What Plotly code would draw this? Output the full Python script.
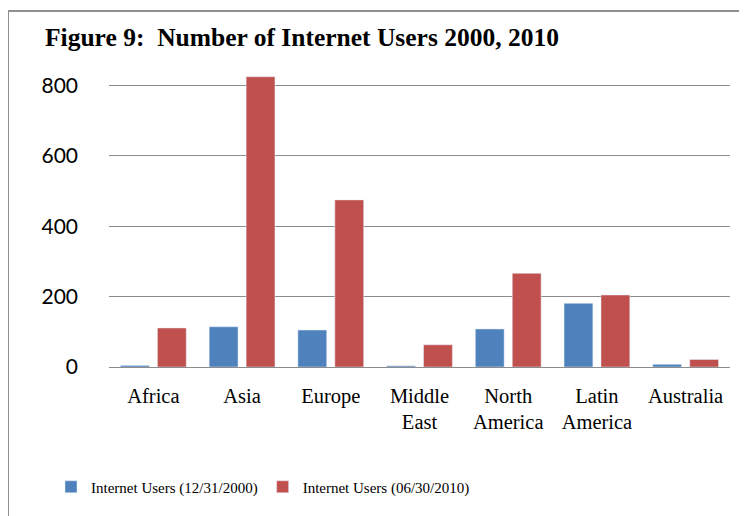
import plotly.graph_objects as go

categories = ["Africa", "Asia", "Europe", "Middle<br>East", "North<br>America", "Latin<br>America", "Australia"]
users_2000 = [4.5, 114.3, 105.1, 3.3, 108.1, 181, 7.6]
users_2010 = [110.9, 825.1, 475.1, 63.2, 266.2, 204.7, 21.3]
series_names = ["Internet Users (12/31/2000)", "Internet Users (06/30/2010)"]
y_ticks = [0, 200, 400, 600, 800]

OFF = 8  # page body margin
W, H = 747 - 2 * OFF, 516 - OFF
L, T = 109 - OFF, 68 - OFF
R = W - (730 - OFF)
B = H - (367 - OFF)
pw, ph = W - L - R, H - T - B

def px_x(px):
    return (px - OFF - L) / pw

def px_y(py):
    return (H - B - (py - OFF)) / ph

fig = go.Figure()
fig.add_trace(go.Bar(x=categories, y=users_2000, name=series_names[0], marker_color="#4F81BD"))
fig.add_trace(go.Bar(x=categories, y=users_2010, name=series_names[1], marker_color="#C0504D"))

fig.update_layout(
    width=W, height=H,
    margin=dict(l=L, r=R, t=T, b=B),
    paper_bgcolor="white", plot_bgcolor="white",
    barmode="group", bargap=0.167, bargroupgap=0.22,
    title=dict(text="<b>Figure 9:  Number of Internet Users 2000, 2010</b>",
               x=(45 - OFF) / W, xanchor="left", xref="container",
               y=1 - (37 - OFF) / H, yanchor="middle", yref="container",
               font=dict(family="Liberation Serif", size=25.5, color="black")),
    xaxis=dict(showgrid=False, showline=False, ticks="", ticklabelstandoff=14,
               tickfont=dict(family="Liberation Serif", size=20.5, color="black")),
    yaxis=dict(range=[0, 850], tickvals=y_ticks, showgrid=True, gridcolor="#8c8c8c", gridwidth=1,
               zeroline=True, zerolinecolor="#8c8c8c", zerolinewidth=1,
               ticks="", ticklabelstandoff=30,
               tickfont=dict(family="Lato", size=21, color="black")),
    legend=dict(orientation="h", x=px_x(51), xanchor="left", y=px_y(487), yanchor="middle",
                font=dict(family="Liberation Serif", size=15, color="black"),
                itemwidth=30, traceorder="normal"),
    showlegend=True,
    shapes=[
        dict(type="line", xref="paper", yref="paper", x0=px_x(8), x1=px_x(8), y0=px_y(11), y1=px_y(530),
             line=dict(color="#909090", width=2)),
        dict(type="line", xref="paper", yref="paper", x0=px_x(7), x1=px_x(760), y0=px_y(11), y1=px_y(11),
             line=dict(color="#909090", width=2)),
    ],
)

fig.write_html("out.html")
